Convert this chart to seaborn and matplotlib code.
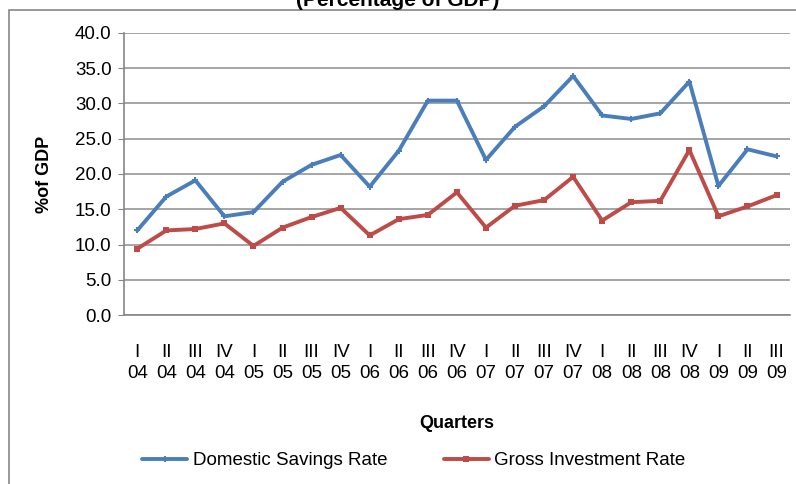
import pandas as pd
import matplotlib.pyplot as plt
import seaborn as sns
from matplotlib.patches import Rectangle

quarters = ["I", "II", "III", "IV"] * 5 + ["I", "II", "III"]
years = ["04"] * 4 + ["05"] * 4 + ["06"] * 4 + ["07"] * 4 + ["08"] * 4 + ["09"] * 3
savings = [12.0, 16.8, 19.1, 14.0, 14.6, 18.9, 21.3, 22.7, 18.2, 23.3, 30.4, 30.4,
           22.0, 26.7, 29.6, 33.9, 28.3, 27.8, 28.6, 33.1, 18.3, 23.5, 22.5]
investment = [9.4, 12.0, 12.2, 13.0, 9.8, 12.4, 13.9, 15.2, 11.3, 13.6, 14.2, 17.4,
              12.4, 15.5, 16.3, 19.6, 13.4, 16.0, 16.2, 23.4, 14.0, 15.4, 17.0]
series_names = ["Domestic Savings Rate", "Gross Investment Rate"]

labels = [q + "\n" + y for q, y in zip(quarters, years)]
n = len(labels)
df = pd.DataFrame({
    "pos": list(range(n)) * 2,
    "value": savings + investment,
    "series": [series_names[0]] * n + [series_names[1]] * n,
})

sns.set_style("white")
plt.rcParams['font.family'] = ['Liberation Sans', 'DejaVu Sans']
plt.rcParams['text.color'] = 'black'
plt.rcParams['axes.labelcolor'] = 'black'
plt.rcParams['xtick.labelcolor'] = 'black'
plt.rcParams['ytick.labelcolor'] = 'black'

fig = plt.figure(figsize=(7.96, 4.84), dpi=100)
ax = fig.add_axes([0.156, 0.349, 0.836, 0.583])

sns.lineplot(data=df, x="pos", y="value", hue="series", style="series",
             palette=["#4A7EBB", "#BE4B48"], markers=["P", "s"], dashes=False,
             linewidth=2.8, markersize=4, markeredgewidth=0, ax=ax, legend=True)

ax.set_ylim(0, 40)
ax.set_yticks([i * 5 for i in range(9)])
ax.set_yticklabels([f"{i * 5:.1f}" for i in range(9)], fontsize=13.5)
ax.set_xlim(-0.45, n - 0.55)
ax.set_xticks(range(n))
ax.set_xticklabels(labels, fontsize=13.5, linespacing=1.25)
ax.tick_params(axis="x", length=0, pad=21)
ax.tick_params(axis="y", length=4, color="#868686", left=True, pad=5)
ax.yaxis.grid(True, color="#969696", linewidth=1.2)
for s in ["top", "right"]:
    ax.spines[s].set_visible(False)
for s in ["left", "bottom"]:
    ax.spines[s].set_color("#868686")
    ax.spines[s].set_linewidth(1.2)

ax.set_xlabel("Quarters", fontsize=13, fontweight="bold", labelpad=24)
ax.set_ylabel("%of GDP", fontsize=13, fontweight="bold", labelpad=16)

handles, lbls = ax.get_legend_handles_labels()
ax.legend(handles, lbls, loc="center", bbox_to_anchor=(0.52, 0.048),
          bbox_transform=fig.transFigure, ncol=2, frameon=False, fontsize=13.5,
          handlelength=2.4, columnspacing=3.0, handletextpad=0.3)

fig.text(0.5, 1.0, "(Percentage of GDP)", ha="center", va="center",
         fontsize=15, fontweight="bold")
fig.patches.append(Rectangle((0.011, -0.1), 1.2, 1.08, transform=fig.transFigure,
                             fill=False, edgecolor="#868686", linewidth=1.2))

fig.savefig("out.png", dpi=100)
